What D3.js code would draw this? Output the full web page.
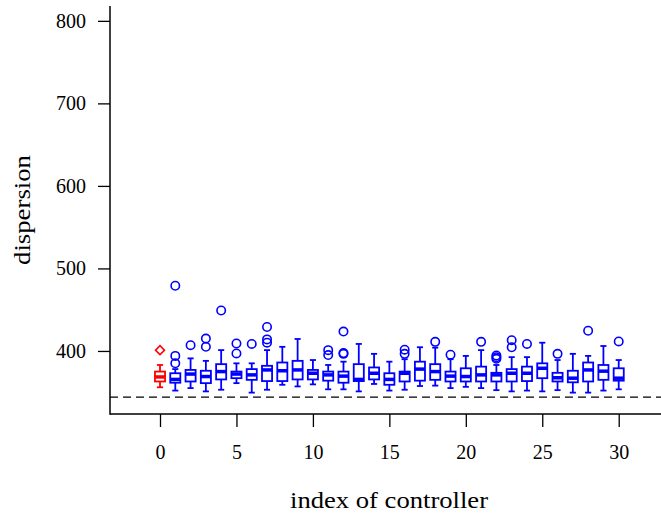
<!DOCTYPE html>
<html>
<head>
<meta charset="utf-8">
<script src="https://cdn.jsdelivr.net/npm/d3@7"></script>
<style>
  body { margin: 0; background: #fff; }
  text { font-family: "Liberation Serif", "DejaVu Serif", serif; fill: #000; }
</style>
</head>
<body>
<script>
// controller index 0 is the reference (red), 1..30 the candidates (blue)
const controllers = [0, 1, 2, 3, 4, 5, 6, 7, 8, 9, 10, 11, 12, 13, 14, 15,
  16, 17, 18, 19, 20, 21, 22, 23, 24, 25, 26, 27, 28, 29, 30];
const whiskerLow = [356, 352, 355, 351, 353, 361, 349.5, 353, 359, 357, 359.5, 353.5, 353.5, 351, 360, 352,
  353, 357.5, 358, 355, 356.5, 355, 352.5, 351, 352, 351, 352.5, 349.5, 349.5, 352, 353.5];
const q1 = [363, 361.5, 363, 361, 365.5, 367, 365, 363.5, 363.5, 365.5, 365.5, 364, 361.5, 363.5, 365.5, 359,
  363, 364, 365, 363, 363, 363, 363, 363, 363.5, 367, 363, 362, 363, 365, 364];
const median = [368.5, 365.5, 372, 369, 375, 372, 371, 377, 376, 377, 373, 371, 369.5, 365.5, 373, 365.5,
  373, 378, 375, 369.5, 369, 371, 371, 373, 373, 379, 367.5, 367, 377, 375.5, 367];
const q3 = [375, 373, 377, 376, 384, 375, 378, 382, 386, 388, 377, 375, 375, 384, 380, 373,
  375, 387, 384, 375, 379, 381, 373.5, 378, 381, 385, 373.5, 376, 386, 383, 379];
const whiskerHigh = [383, 378, 391, 388, 401, 385, 385, 401, 405, 414.5, 389, 383, 387, 408.5, 396.5, 387,
  390, 404.5, 404, 390, 394, 401, 383, 392.5, 392.5, 410, 389, 396.5, 394, 406, 389];
const outliers = [[401], [479, 394, 385], [407], [415, 405], [449], [409, 397], [408.5], [429, 414, 410],
  [], [], [], [401, 395], [423.5, 397.5, 396.5], [], [], [],
  [401.5, 396.5], [], [411], [395.5], [], [411], [394.5, 392.5, 390.5], [413, 404.5], [408.5], [], [396.5], [], [424.5], [], [411.5]];
const yTicks = [400, 500, 600, 700, 800];
const xTicks = [0, 5, 10, 15, 20, 25, 30];
const refLevel = 344;

const W = 661, H = 517;
const svg = d3.select('body').append('svg')
  .attr('width', W)
  .attr('height', H);

const x = d3.scaleLinear().domain([-3.27, 32.7]).range([110, 660]);
const y = d3.scaleLinear().domain([323.6, 818]).range([414, 6]);

const colorOf = i => i === 0 ? '#ff0000' : '#0000ff';
const halfBox = x(0.33) - x(0);
const halfCap = x(0.2) - x(0);

// reference level
svg.append('line')
  .attr('x1', x(-3.27)).attr('x2', W)
  .attr('y1', y(refLevel)).attr('y2', y(refLevel))
  .attr('stroke', '#000')
  .attr('stroke-width', 1.3)
  .attr('stroke-dasharray', '8,5');

const boxes = svg.selectAll('g.box')
  .data(controllers)
  .enter()
  .append('g')
  .attr('class', 'box')
  .attr('stroke', colorOf)
  .attr('fill', 'none');

// whiskers
boxes.append('line')
  .attr('x1', i => x(i)).attr('x2', i => x(i))
  .attr('y1', i => y(whiskerLow[i])).attr('y2', i => y(q1[i]))
  .attr('stroke-width', 1.8);
boxes.append('line')
  .attr('x1', i => x(i)).attr('x2', i => x(i))
  .attr('y1', i => y(whiskerHigh[i])).attr('y2', i => y(q3[i]))
  .attr('stroke-width', 1.8);
// staples
boxes.append('line')
  .attr('x1', i => x(i) - halfCap).attr('x2', i => x(i) + halfCap)
  .attr('y1', i => y(whiskerLow[i])).attr('y2', i => y(whiskerLow[i]))
  .attr('stroke-width', 1.8);
boxes.append('line')
  .attr('x1', i => x(i) - halfCap).attr('x2', i => x(i) + halfCap)
  .attr('y1', i => y(whiskerHigh[i])).attr('y2', i => y(whiskerHigh[i]))
  .attr('stroke-width', 1.8);
// box
boxes.append('rect')
  .attr('x', i => x(i) - halfBox)
  .attr('width', 2 * halfBox)
  .attr('y', i => y(q3[i]))
  .attr('height', i => y(q1[i]) - y(q3[i]))
  .attr('fill', '#fff')
  .attr('stroke-width', 1.8);
// median
boxes.append('line')
  .attr('x1', i => x(i) - halfBox).attr('x2', i => x(i) + halfBox)
  .attr('y1', i => y(median[i])).attr('y2', i => y(median[i]))
  .attr('stroke-width', 3.5);

// outliers
boxes.each(function (i) {
  const g = d3.select(this);
  outliers[i].forEach(v => {
    if (i === 0) {
      g.append('path')
        .attr('d', d3.symbol(d3.symbolSquare, 40)())
        .attr('transform', `translate(${x(i)},${y(v)}) rotate(45)`)
        .attr('stroke-width', 1.6);
    } else {
      g.append('circle')
        .attr('cx', x(i))
        .attr('cy', y(v))
        .attr('r', 4.2)
        .attr('stroke-width', 1.6);
    }
  });
});

// axes
const yAxis = svg.append('g')
  .attr('transform', `translate(${x(-3.27)},0)`)
  .call(d3.axisLeft(y).tickValues(yTicks).tickSize(12).tickPadding(12));
const xAxis = svg.append('g')
  .attr('transform', `translate(0,${y(323.6)})`)
  .call(d3.axisBottom(x).tickValues(xTicks).tickSize(13).tickPadding(18));

[yAxis, xAxis].forEach(a => {
  a.select('.domain').remove();
  a.selectAll('line').attr('stroke', '#000').attr('stroke-width', 1.3);
  a.selectAll('text').style('font-size', '20px')
    .style('font-family', '"Liberation Serif", "DejaVu Serif", serif');
});

svg.append('line')
  .attr('x1', x(-3.27)).attr('x2', x(-3.27))
  .attr('y1', 6).attr('y2', y(323.6) + 0.7)
  .attr('stroke', '#000').attr('stroke-width', 1.5);
svg.append('line')
  .attr('x1', x(-3.27)).attr('x2', W)
  .attr('y1', y(323.6)).attr('y2', y(323.6))
  .attr('stroke', '#000').attr('stroke-width', 1.5);

svg.append('text')
  .attr('x', 389)
  .attr('y', 508)
  .attr('text-anchor', 'middle')
  .attr('textLength', 198)
  .attr('lengthAdjust', 'spacingAndGlyphs')
  .style('font-size', '23px')
  .text('index of controller');

svg.append('text')
  .attr('transform', 'translate(30,210) rotate(-90)')
  .attr('text-anchor', 'middle')
  .attr('textLength', 110)
  .attr('lengthAdjust', 'spacingAndGlyphs')
  .style('font-size', '23px')
  .text('dispersion');
</script>
</body>
</html>
